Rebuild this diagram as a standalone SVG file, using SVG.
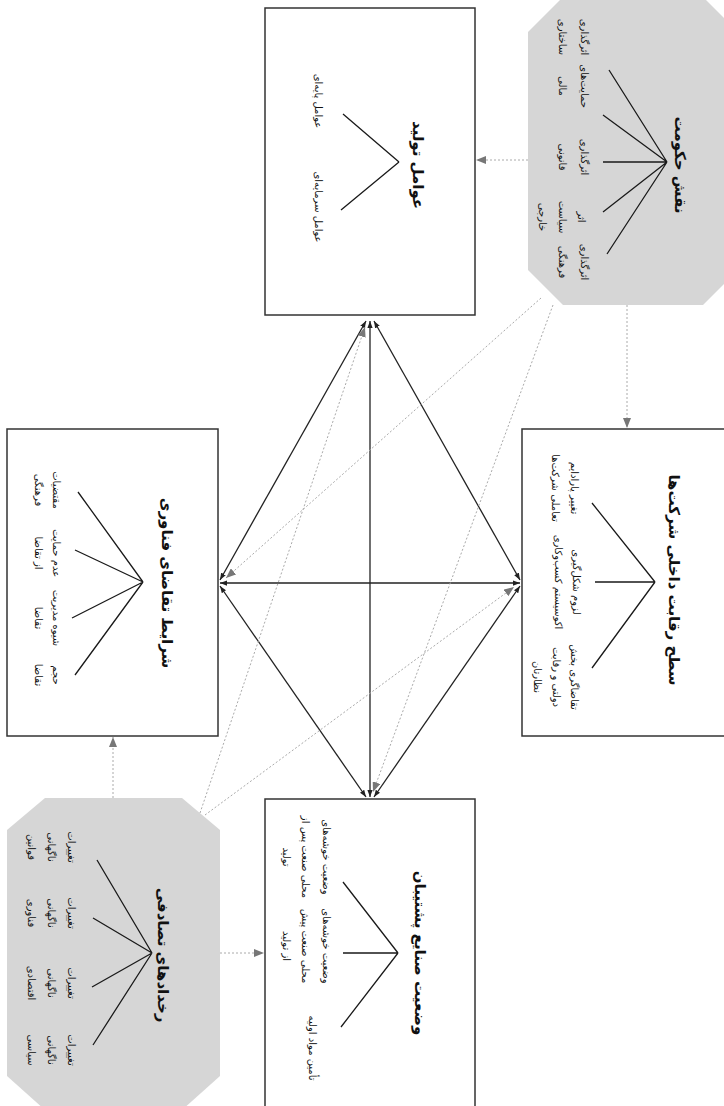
<svg xmlns="http://www.w3.org/2000/svg" width="724" height="1106" viewBox="0 0 724 1106">
<style>
.bg{fill:#fff}
.box{fill:#fff;stroke:#333;stroke-width:1.5}
.oct{fill:#d6d6d6;stroke:none}
.fan{stroke:#1a1a1a;stroke-width:1.3;fill:none}
.dbl{stroke:#222;stroke-width:1.3;fill:none;marker-start:url(#ah);marker-end:url(#ah)}
.dash{stroke:#aaa;stroke-width:1;stroke-dasharray:2 2;fill:none;marker-end:url(#ag)}
.t{font-family:"DejaVu Sans",sans-serif;font-size:10px;fill:#111;text-anchor:middle;dominant-baseline:central}
.h{font-size:15px;font-weight:bold}
</style>
<defs>
<marker id="ah" viewBox="0 0 8 6" refX="8" refY="3" markerWidth="7" markerHeight="5.5" markerUnits="userSpaceOnUse" orient="auto-start-reverse"><path d="M0,0L8,3L0,6z" fill="#222"/></marker>
<marker id="ag" viewBox="0 0 10 8" refX="10" refY="4" markerWidth="10" markerHeight="8" markerUnits="userSpaceOnUse" orient="auto"><path d="M0,0L10,4L0,8z" fill="#777"/></marker>
</defs>
<rect class="bg" x="0" y="0" width="724" height="1106"/>

<g id="government">
<polygon class="oct" points="563,-3 703,-3 738,32 738,270 703,305 563,305 528,270 528,32"/>
<text class="t h" transform="translate(680,165) rotate(90)">نقش حکومت</text>
<path class="fan" d="M667,162L609,70M667,162L603,115M667,162L603,162M667,162L603,212M667,162L607,254"/>
<text class="t" transform="translate(585,37) rotate(90)"><tspan x="0" y="0">اثرگذاری</tspan><tspan x="0" dy="22">ساختاری</tspan></text>
<text class="t" transform="translate(585,86) rotate(90)"><tspan x="0" y="0">حمایت‌های</tspan><tspan x="0" dy="22">مالی</tspan></text>
<text class="t" transform="translate(585,157) rotate(90)"><tspan x="0" y="0">اثرگذاری</tspan><tspan x="0" dy="22">قانونی</tspan></text>
<text class="t" transform="translate(582,217) rotate(90)"><tspan x="0" y="0">اثر</tspan><tspan x="0" dy="19">سیاست</tspan><tspan x="0" dy="20">خارجی</tspan></text>
<text class="t" transform="translate(585,262) rotate(90)"><tspan x="0" y="0">اثرگذاری</tspan><tspan x="0" dy="22">فرهنگی</tspan></text>
</g>

<g id="factor-conditions">
<rect class="box" x="265" y="8" width="210" height="307"/>
<text class="t h" transform="translate(418,165) rotate(90)">عوامل تولید</text>
<path class="fan" d="M399,162L343,114M399,162L341,210"/>
<text class="t" transform="translate(318,101) rotate(90)">عوامل پایه‌ای</text>
<text class="t" transform="translate(318,207) rotate(90)">عوامل سرمایه‌ای</text>
</g>

<g id="firm-rivalry">
<rect class="box" x="522" y="429" width="212" height="307"/>
<text class="t h" transform="translate(674,580) rotate(90)">سطح رقابت داخلی شرکت‌ها</text>
<path class="fan" d="M655,582L592,503M655,582L595,582M655,582L592,668"/>
<text class="t" transform="translate(575,488) rotate(90)"><tspan x="0" y="0">تغییر پارادایم</tspan><tspan x="0" dy="19">تعاملی شرکت‌ها</tspan></text>
<text class="t" transform="translate(577,582) rotate(90)"><tspan x="0" y="0">لزوم شکل‌گیری</tspan><tspan x="0" dy="18">اکوسیستم کسب‌وکاری</tspan></text>
<text class="t" transform="translate(575,677) rotate(90)"><tspan x="0" y="0">تقاضاگری بخش</tspan><tspan x="0" dy="18">دولتی و رقابت</tspan><tspan x="0" dy="19">نظارتان</tspan></text>
</g>

<g id="demand-conditions">
<rect class="box" x="7" y="429" width="211" height="307"/>
<text class="t h" transform="translate(167,583) rotate(90)">شرایط تقاضای فناوری</text>
<path class="fan" d="M143,582L78,492M143,582L75,550M143,582L72,618M143,582L75,675"/>
<text class="t" transform="translate(57,490) rotate(90)"><tspan x="0" y="0">مقتضیات</tspan><tspan x="0" dy="18">فرهنگی</tspan></text>
<text class="t" transform="translate(57,553) rotate(90)"><tspan x="0" y="0">عدم حمایت</tspan><tspan x="0" dy="18">از تقاضا</tspan></text>
<text class="t" transform="translate(57,618) rotate(90)"><tspan x="0" y="0">شیوه مدیریت</tspan><tspan x="0" dy="18">تقاضا</tspan></text>
<text class="t" transform="translate(57,675) rotate(90)"><tspan x="0" y="0">حجم</tspan><tspan x="0" dy="18">تقاضا</tspan></text>
</g>

<g id="chance">
<polygon class="oct" points="45,798 182,798 220,830 220,1076 182,1110 45,1110 7,1076 7,830"/>
<text class="t h" transform="translate(163,955) rotate(90)">رخدادهای تصادفی</text>
<path class="fan" d="M152,953L97,860M152,953L93,918M152,953L92,987M152,953L93,1045"/>
<text class="t" transform="translate(72,847) rotate(90)"><tspan x="0" y="0">تغییرات</tspan><tspan x="0" dy="20">ناگهانی</tspan><tspan x="0" dy="20">قوانین</tspan></text>
<text class="t" transform="translate(72,913) rotate(90)"><tspan x="0" y="0">تغییرات</tspan><tspan x="0" dy="20">ناگهانی</tspan><tspan x="0" dy="20">فناوری</tspan></text>
<text class="t" transform="translate(72,983) rotate(90)"><tspan x="0" y="0">تغییرات</tspan><tspan x="0" dy="20">ناگهانی</tspan><tspan x="0" dy="20">اقتصادی</tspan></text>
<text class="t" transform="translate(72,1050) rotate(90)"><tspan x="0" y="0">تغییرات</tspan><tspan x="0" dy="20">ناگهانی</tspan><tspan x="0" dy="20">سیاسی</tspan></text>
</g>

<g id="related-industries">
<rect class="box" x="265" y="799" width="210" height="310"/>
<text class="t h" transform="translate(420,953) rotate(90)">وضعیت صنایع پشتیبان</text>
<path class="fan" d="M398,953L343,882M398,953L343,953M398,953L341,1027"/>
<text class="t" transform="translate(327,857) rotate(90)"><tspan x="0" y="0">وضعیت خوشه‌های</tspan><tspan x="0" dy="21">محلی صنعت پس از</tspan><tspan x="0" dy="19">تولید</tspan></text>
<text class="t" transform="translate(327,946) rotate(90)"><tspan x="0" y="0">وضعیت خوشه‌های</tspan><tspan x="0" dy="21">محلی صنعت پیش</tspan><tspan x="0" dy="19">از تولید</tspan></text>
<text class="t" transform="translate(312,1048) rotate(90)">تأمین مواد اولیه</text>
</g>

<g id="connectors">
<path class="dbl" d="M370,321L370,797"/>
<path class="dbl" d="M220,583L520,583"/>
<path class="dbl" d="M366,321L220,580"/>
<path class="dbl" d="M374,321L520,580"/>
<path class="dbl" d="M220,586L366,797"/>
<path class="dbl" d="M520,586L374,797"/>
<path class="dash" d="M528,160L476,160"/>
<path class="dash" d="M627,305L627,428"/>
<path class="dash" d="M541,298L226,578"/>
<path class="dash" d="M553,305L373,792"/>
<path class="dash" d="M200,813L365,327"/>
<path class="dash" d="M205,815L514,587"/>
<path class="dash" d="M113,798L113,737"/>
<path class="dash" d="M220,953L264,953"/>
</g>
</svg>
